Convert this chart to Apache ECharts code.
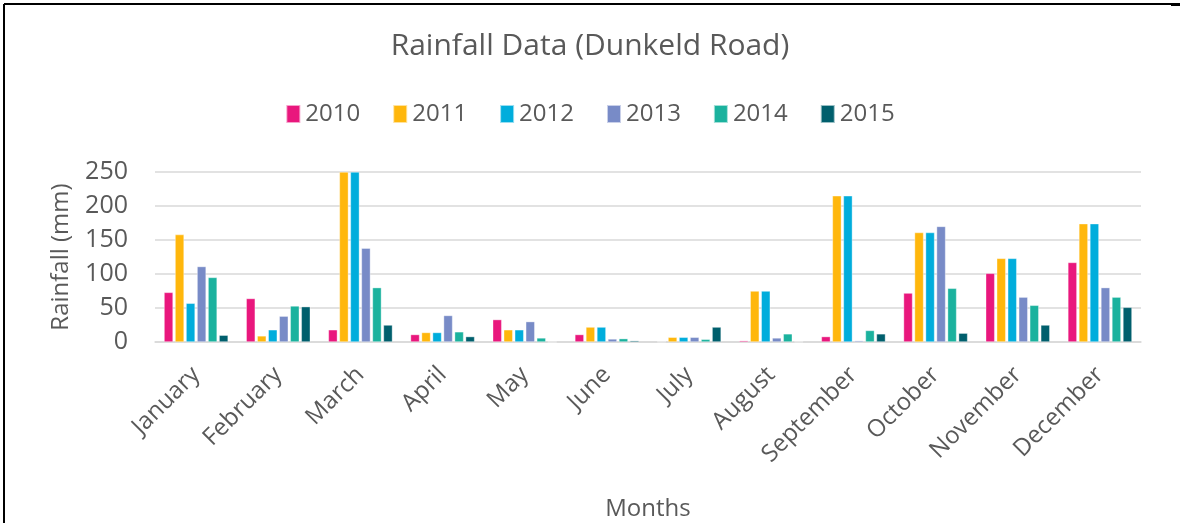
<!DOCTYPE html>
<html>
<head>
<meta charset="utf-8">
<script src="https://cdn.jsdelivr.net/npm/echarts@6/dist/echarts.min.js"></script>
<style>
  html, body { margin: 0; padding: 0; background: #fff; }
  #chart { width: 1180px; height: 523px; }
</style>
</head>
<body>
<div id="chart"></div>
<script>
// months on the x axis
const months = ['January', 'February', 'March', 'April', 'May', 'June',
    'July', 'August', 'September', 'October', 'November', 'December'];
const years = ['2010', '2011', '2012', '2013', '2014', '2015'];

// rainfall (mm) per year
const rain2010 = [73, 64, 18, 11, 33, 11, 0.5, 2, 8, 72, 101, 117];
const rain2011 = [158, 9, 250, 14, 18, 22, 7, 75, 215, 161, 123, 174];
const rain2012 = [57, 18, 250, 14, 18, 22, 7, 75, 215, 161, 123, 174];
const rain2013 = [111, 38, 138, 39, 30, 4.5, 7, 6, 2, 170, 66, 80];
const rain2014 = [95, 53, 80, 15, 6, 5, 4, 12, 17, 79, 54, 66];
const rain2015 = [10, 52, 25, 8, 0, 2, 22, 0.5, 12, 13, 25, 51];

const yTicks = [0, 50, 100, 150, 200, 250];

const colors = ['#E9177D', '#FFB70C', '#00ADDC', '#788BC7', '#1BB29E', '#005F6D'];
const seriesData = [rain2010, rain2011, rain2012, rain2013, rain2014, rain2015];

var chartDom = document.getElementById('chart');
var myChart = echarts.init(chartDom, null, { renderer: 'canvas' });

const textColor = '#595959';
const font = 'Open Sans';

var option = {
    animation: false,
    color: colors,
    title: {
        text: 'Rainfall Data (Dunkeld Road)',
        left: 'center',
        top: 26,
        textStyle: { color: textColor, fontFamily: font, fontSize: 30, fontWeight: 'normal' }
    },
    legend: {
        top: 97,
        left: 'center',
        itemWidth: 14,
        itemHeight: 18,
        itemGap: 32,
        icon: 'rect',
        textStyle: { color: textColor, fontFamily: font, fontSize: 24 },
        data: years
    },
    grid: {
        left: 155,
        right: 39,
        top: 172,
        bottom: 181,
        containLabel: false
    },
    xAxis: {
        type: 'category',
        data: months,
        name: 'Months',
        nameLocation: 'middle',
        nameGap: 155,
        nameTextStyle: { color: textColor, fontFamily: font, fontSize: 24 },
        axisLine: { lineStyle: { color: '#d9d9d9', width: 1.5 } },
        axisTick: { show: false },
        axisLabel: {
            rotate: 45,
            interval: 0,
            margin: 29,
            color: textColor,
            fontFamily: font,
            fontSize: 24
        }
    },
    yAxis: {
        type: 'value',
        min: yTicks[0],
        max: yTicks[yTicks.length - 1],
        interval: 50,
        name: 'Rainfall (mm)',
        nameLocation: 'middle',
        nameGap: 82,
        nameTextStyle: { color: textColor, fontFamily: font, fontSize: 24 },
        axisLine: { show: false },
        axisTick: { show: false },
        splitLine: { lineStyle: { color: '#d9d9d9', width: 1.5 } },
        axisLabel: {
            margin: 27,
            color: textColor,
            fontFamily: font,
            fontSize: 25
        }
    },
    series: years.map((y, i) => ({
        name: y,
        type: 'bar',
        data: seriesData[i],
        barGap: '22%',
        barCategoryGap: '22%',
        itemStyle: { borderColor: 'rgba(255,255,255,0.6)', borderWidth: 0.6 }
    })),
    graphic: [
        { type: 'line', shape: { x1: 4, y1: 4, x2: 4, y2: 523 }, style: { stroke: '#000', lineWidth: 2 } },
        { type: 'line', shape: { x1: 4, y1: 4, x2: 1172, y2: 4 }, style: { stroke: '#000', lineWidth: 2 } },
        { type: 'rect', shape: { x: 1171, y: 3, width: 9, height: 3 }, style: { fill: '#000' } }
    ]
};

option && myChart.setOption(option);
</script>
</body>
</html>
